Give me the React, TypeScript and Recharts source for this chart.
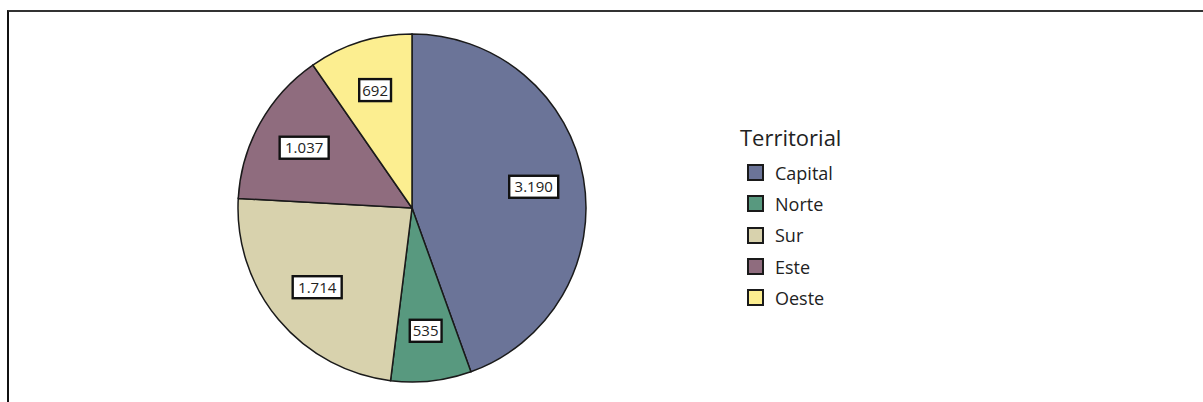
import React from "react";
import { PieChart, Pie, Cell, Legend } from "recharts";

const categories = ["Capital", "Norte", "Sur", "Este", "Oeste"];
const values = [3190, 535, 1714, 1037, 692];
const valueLabels = ["3.190", "535", "1.714", "1.037", "692"];
const colors = ["#6b7498", "#58997f", "#d8d2ad", "#8f6c7e", "#fcee90"];
const legendTitle = "Territorial";

const data = categories.map((name, i) => ({ name, value: values[i], label: valueLabels[i] }));

const FONT = "'Open Sans', 'Noto Sans', sans-serif";
const RAD = Math.PI / 180;

const renderLabel = (props: any) => {
  const { cx, cy, midAngle, outerRadius, index } = props;
  const r = outerRadius * 0.71;
  const x = cx + r * Math.cos(-midAngle * RAD);
  const y = cy + r * Math.sin(-midAngle * RAD);
  const text = valueLabels[index];
  const w = text.length * 8.6 + 6;
  const h = 22;
  return (
    <g key={`lbl-${index}`}>
      <rect x={x - w / 2} y={y - h / 2} width={w} height={h} fill="#ffffff" stroke="#111" strokeWidth={2.4} />
      <text x={x} y={y + 5.5} textAnchor="middle" fontFamily={FONT} fontSize={15} fill="#222">
        {text}
      </text>
    </g>
  );
};

const renderLegend = () => (
  <div style={{ fontFamily: FONT, color: "#222" }}>
    <div style={{ fontSize: 22, lineHeight: "28px", marginBottom: 6 }}>{legendTitle}</div>
    {categories.map((c, i) => (
      <div key={c} style={{ display: "flex", alignItems: "center", height: 31.3, marginLeft: 7 }}>
        <div
          style={{
            width: 13,
            height: 13,
            background: colors[i],
            border: "2.5px solid #1a1a1a",
            marginRight: 11,
          }}
        />
        <span style={{ fontSize: 18 }}>{c}</span>
      </div>
    ))}
  </div>
);

export default function App() {
  return (
    <div style={{ position: "absolute", left: 0, top: 0, width: 1203, height: 402, background: "#fff", overflow: "hidden" }}>
      <div
        style={{
          position: "absolute",
          left: 7,
          top: 10,
          width: 1200,
          height: 400,
          borderTop: "2px solid #333",
          borderLeft: "2px solid #111",
        }}
      />
      <div style={{ position: "absolute", left: 0, top: 0 }}>
        <PieChart width={1203} height={402} margin={{ top: 0, right: 0, bottom: 0, left: 0 }}>
          <Pie
            data={data}
            dataKey="value"
            nameKey="name"
            cx={412}
            cy={208}
            outerRadius={174}
            startAngle={90}
            endAngle={-270}
            stroke="#1a1a1a"
            strokeWidth={1.5}
            label={renderLabel}
            labelLine={false}
            isAnimationActive={false}
          >
            {data.map((d, i) => (
              <Cell key={d.name} fill={colors[i]} />
            ))}
          </Pie>
          <Legend content={renderLegend} wrapperStyle={{ position: "absolute", left: 740, top: 123, width: 200 }} />
        </PieChart>
      </div>
    </div>
  );
}
